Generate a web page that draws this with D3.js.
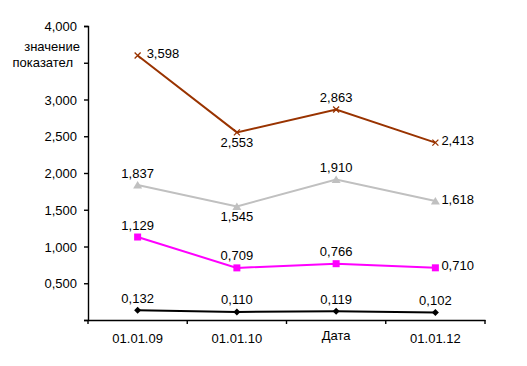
<!DOCTYPE html>
<html><head><meta charset="utf-8">
<script src="https://cdn.jsdelivr.net/npm/d3@7"></script>
<style>body{margin:0;background:#fff}text{font-family:"Liberation Sans",Arial,sans-serif;font-size:13px;fill:#000}</style>
</head><body>
<svg id="c" width="527" height="366"></svg>
<script>
const categories = ["01.01.09","01.01.10","01.01.11","01.01.12"];
const xLabels = ["01.01.09","01.01.10","","01.01.12"];
const yTicks = [0,0.5,1,1.5,2,2.5,3,3.5,4];
const seriesBrown = [3.598,2.553,2.863,2.413];
const seriesGray = [1.837,1.545,1.910,1.618];
const seriesMagenta = [1.129,0.709,0.766,0.710];
const seriesBlack = [0.132,0.110,0.119,0.102];

const series = [
  {values: seriesBrown, color:"#993300", marker:"cross", pos:["right","below","above","right"]},
  {values: seriesGray, color:"#c0c0c0", marker:"triangle", pos:["above","below","above","right"]},
  {values: seriesMagenta, color:"#ff00ff", marker:"square", pos:["above","above","above","right"]},
  {values: seriesBlack, color:"#000000", marker:"diamond", pos:["above","above","above","above"]}
];

const svg = d3.select("#c");
const x = d3.scaleBand().domain(categories).range([88,485]).padding(0);
const y = d3.scaleLinear().domain([0,4]).range([320,26]);
const fmt = v => d3.format(".3f")(v).replace(".", ",");

// y axis
const ya = svg.append("g").attr("transform","translate(88,0)")
  .call(d3.axisLeft(y).tickValues(yTicks).tickSize(4).tickPadding(7)
    .tickFormat(v => (v===0||v===3.5) ? "" : fmt(v)));
ya.select(".domain").attr("stroke","#000").attr("stroke-width",1.4);
ya.selectAll(".tick line").attr("stroke","#000").attr("stroke-width",1.4);
ya.selectAll(".tick text").style("font-size","13px").attr("dy","0.36em");

// y title
svg.append("text").attr("text-anchor","end").attr("x",80).attr("y",y(3.5)-16).attr("dy","0.35em").text("значение");
svg.append("text").attr("text-anchor","end").attr("x",73).attr("y",y(3.5)).attr("dy","0.35em").text("показател");

// x axis
const xa = svg.append("g").attr("transform","translate(0,320)")
  .call(d3.axisBottom(x).tickSize(0).tickPadding(14).tickFormat((d,i)=>xLabels[i]));
xa.select(".domain").attr("stroke","#000").attr("stroke-width",1.4);
xa.selectAll(".tick text").style("font-size","13px");
const bounds = categories.map(c=>x(c)).concat([x.range()[1]]);
svg.append("g").selectAll("line").data(bounds).join("line")
  .attr("x1",d=>d).attr("x2",d=>d).attr("y1",320).attr("y2",324)
  .attr("stroke","#000").attr("stroke-width",1.4);
svg.append("text").attr("x",x(categories[2])+x.bandwidth()/2).attr("y",335).attr("dy","0.35em")
  .attr("text-anchor","middle").text("Дата");

const cx = c => x(c)+x.bandwidth()/2;
const line = d3.line().x((d,i)=>cx(categories[i])).y(d=>y(d));

series.forEach(s=>{
  svg.append("path").datum(s.values).attr("d",line).attr("fill","none")
    .attr("stroke",s.color).attr("stroke-width",2);
  const g = svg.append("g");
  s.values.forEach((v,i)=>{
    const px = cx(categories[i]), py = y(v);
    if(s.marker==="cross"){
      g.append("path").attr("d",`M${px-3},${py-3}L${px+3},${py+3}M${px-3},${py+3}L${px+3},${py-3}`)
        .attr("stroke",s.color).attr("stroke-width",1.3);
    } else if(s.marker==="triangle"){
      g.append("path").attr("d",`M${px},${py-4}L${px+4.5},${py+3.5}L${px-4.5},${py+3.5}Z`).attr("fill",s.color);
    } else if(s.marker==="square"){
      g.append("rect").attr("x",px-3.5).attr("y",py-3.5).attr("width",7).attr("height",7).attr("fill",s.color);
    } else {
      g.append("path").attr("d",`M${px},${py-3.5}L${px+3.5},${py}L${px},${py+3.5}L${px-3.5},${py}Z`).attr("fill",s.color);
    }
    const p = s.pos[i];
    const t = svg.append("text").attr("dy","0.35em").text(fmt(v));
    if(p==="right") t.attr("x",px+(i===0?9:6)).attr("y",py-2).attr("text-anchor","start");
    else if(p==="above") t.attr("x",px).attr("y",py-12).attr("text-anchor","middle");
    else t.attr("x",px).attr("y",py+10).attr("text-anchor","middle");
  });
});
</script>
</body></html>
